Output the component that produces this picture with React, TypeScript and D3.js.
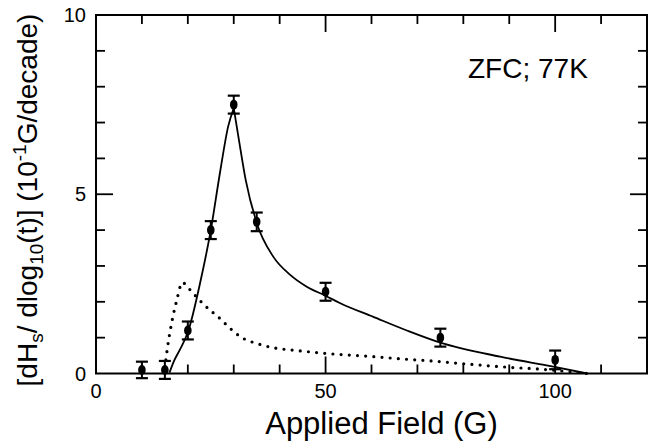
import React from "react";
import * as d3 from "d3";

// Measured points with error bars
const fieldG = [10, 15, 20, 25, 30, 35, 50, 75, 100];
const rateValues = [0.1, 0.1, 1.2, 4.0, 7.5, 4.23, 2.28, 1.0, 0.38];
const rateErrors = [0.23, 0.25, 0.25, 0.25, 0.25, 0.26, 0.25, 0.25, 0.26];

// Solid fit curve: rising branch and falling branch (cusp at peak)
const solidRiseX = [16, 17, 18.5, 20, 22.8, 25, 27, 28.8, 30];
const solidRiseY = [0.02, 0.35, 0.72, 1.15, 2.6, 4.0, 5.6, 6.9, 7.4];
const solidFallX = [30, 31.4, 32.6, 35, 38.6, 42.3, 45.9, 50, 53.2, 60.4, 67.7, 75, 88, 99.6, 107];
const solidFallY = [7.4, 6.3, 5.4, 4.2, 3.26, 2.75, 2.42, 2.17, 1.96, 1.58, 1.2, 0.86, 0.47, 0.19, 0];

// Dotted curve
const dottedX = [15, 15.6, 16.6, 17.6, 18.8, 20.3, 22.5, 24.8, 26.6, 29.2, 31.4, 35.5, 39.4, 42.3, 50, 60.4, 67.3, 72, 79.3, 88, 98.9, 105.4, 107];
const dottedY = [0.15, 0.75, 1.49, 2.05, 2.54, 2.36, 2.05, 1.77, 1.58, 1.26, 1.03, 0.82, 0.7, 0.66, 0.56, 0.47, 0.4, 0.36, 0.28, 0.19, 0.1, 0.02, 0];

const xMinorTicks = [10, 20, 30, 40, 60, 70, 80, 90, 110];
const xMajorTicks = [50, 100];
const xTickLabels = [0, 50, 100];
const yMinorTicks = [1, 2, 3, 4, 6, 7, 8, 9];
const yMajorTicks = [5];
const yTickLabels = [0, 5, 10];

const annotation = "ZFC; 77K";
const xTitle = "Applied Field (G)";

const W = 651;
const H = 444;
const left = 96, right = 647, top = 15, bottom = 373.5;

export default function App() {
  const x = d3.scaleLinear().domain([0, 120]).range([left, right]);
  const y = d3.scaleLinear().domain([0, 10]).range([bottom, top]);

  const line = d3
    .line<[number, number]>()
    .x((d) => x(d[0]))
    .y((d) => y(d[1]))
    .curve(d3.curveMonotoneX);

  const rise = line(solidRiseX.map((v, i) => [v, solidRiseY[i]] as [number, number])) || "";
  const fall = line(solidFallX.map((v, i) => [v, solidFallY[i]] as [number, number])) || "";
  const dotted = line(dottedX.map((v, i) => [v, dottedY[i]] as [number, number])) || "";

  const minorLen = 9;
  const majorLen = 17;
  const font = "'Liberation Sans', Arial, Helvetica, sans-serif";

  return (
    <svg
      width={W}
      height={H}
      style={{ position: "absolute", left: 0, top: 0, background: "#fff" }}
      fontFamily={font}
    >
      <rect x={0} y={0} width={W} height={H} fill="#fff" />
      {/* frame */}
      <rect x={left} y={top} width={right - left} height={bottom - top} fill="none" stroke="#000" strokeWidth={2} />

      {/* x ticks bottom and top */}
      {xMinorTicks.map((t) => (
        <g key={"xm" + t}>
          <line x1={x(t)} x2={x(t)} y1={bottom} y2={bottom - minorLen} stroke="#000" strokeWidth={1.8} />
          <line x1={x(t)} x2={x(t)} y1={top} y2={top + minorLen} stroke="#000" strokeWidth={1.8} />
        </g>
      ))}
      {xMajorTicks.map((t) => (
        <g key={"xM" + t}>
          <line x1={x(t)} x2={x(t)} y1={bottom} y2={bottom - majorLen} stroke="#000" strokeWidth={1.8} />
          <line x1={x(t)} x2={x(t)} y1={top} y2={top + majorLen} stroke="#000" strokeWidth={1.8} />
        </g>
      ))}
      {/* y ticks left and right */}
      {yMinorTicks.map((t) => (
        <g key={"ym" + t}>
          <line x1={left} x2={left + minorLen} y1={y(t)} y2={y(t)} stroke="#000" strokeWidth={1.8} />
          <line x1={right} x2={right - minorLen} y1={y(t)} y2={y(t)} stroke="#000" strokeWidth={1.8} />
        </g>
      ))}
      {yMajorTicks.map((t) => (
        <g key={"yM" + t}>
          <line x1={left} x2={left + majorLen} y1={y(t)} y2={y(t)} stroke="#000" strokeWidth={1.8} />
          <line x1={right} x2={right - majorLen} y1={y(t)} y2={y(t)} stroke="#000" strokeWidth={1.8} />
        </g>
      ))}

      {/* tick labels */}
      {xTickLabels.map((t) => (
        <text key={"xl" + t} x={x(t)} y={397.5} textAnchor="middle" fontSize={20} fill="#000">
          {t}
        </text>
      ))}
      {yTickLabels.map((t) => (
        <text key={"yl" + t} x={86} y={y(t) + 7} textAnchor="end" fontSize={20} fill="#000">
          {t}
        </text>
      ))}

      {/* curves */}
      <path d={dotted} fill="none" stroke="#000" strokeWidth={3.2} strokeLinecap="round" strokeDasharray="0 8.2" />
      <path d={rise} fill="none" stroke="#000" strokeWidth={1.8} />
      <path d={fall} fill="none" stroke="#000" strokeWidth={1.8} />

      {/* data points with error bars */}
      {fieldG.map((f, i) => {
        const cx = x(f);
        const cy = y(rateValues[i]);
        const y1 = y(rateValues[i] + rateErrors[i]);
        const y2 = y(rateValues[i] - rateErrors[i]);
        return (
          <g key={"p" + f}>
            <line x1={cx} x2={cx} y1={y1} y2={y2} stroke="#000" strokeWidth={2} />
            <line x1={cx - 6} x2={cx + 6} y1={y1} y2={y1} stroke="#000" strokeWidth={2.2} />
            <line x1={cx - 6} x2={cx + 6} y1={y2} y2={y2} stroke="#000" strokeWidth={2.2} />
            <ellipse cx={cx} cy={cy} rx={3.8} ry={5} fill="#000" />
          </g>
        );
      })}

      {/* annotation */}
      <text x={468} y={78.3} fontSize={28} fill="#000">
        {annotation}
      </text>

      {/* axis titles */}
      <text x={(left + right) / 2 + 10} y={433.5} textAnchor="middle" fontSize={31} fill="#000">
        {xTitle}
      </text>
      <text transform="translate(36.5,200) rotate(-90)" textAnchor="middle" fontSize={28} fill="#000">
        [dH
        <tspan dy={6} fontSize={19}>s</tspan>
        <tspan dy={-6}>/ dlog</tspan>
        <tspan dy={6} fontSize={19}>10</tspan>
        <tspan dy={-6}>(t)] (10</tspan>
        <tspan dy={-11} fontSize={19}>-1</tspan>
        <tspan dy={11}>G/decade)</tspan>
      </text>
    </svg>
  );
}
